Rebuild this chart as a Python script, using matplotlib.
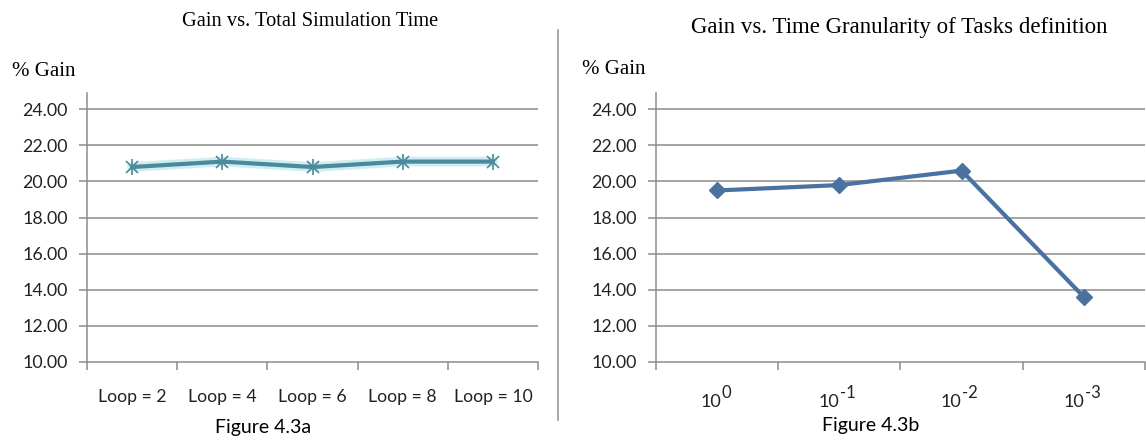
import matplotlib
matplotlib.use("Agg")
import matplotlib.pyplot as plt
from matplotlib.lines import Line2D

plt.rcParams['font.family'] = ['Lato', 'DejaVu Sans']

# Figure 4.3a: gain against total simulation time
loop_labels = ["Loop = 2", "Loop = 4", "Loop = 6", "Loop = 8", "Loop = 10"]
loop_gain = [20.8, 21.1, 20.8, 21.1, 21.1]

# Figure 4.3b: gain against time granularity of task definition (10^exp)
gran_exps = ["0", "-1", "-2", "-3"]
gran_gain = [19.5, 19.8, 20.6, 13.6]

y_ticks = [10, 12, 14, 16, 18, 20, 22, 24]

grid_col = "#8c8c8c"
text_col = "#222222"
serif = "Liberation Serif"

fig = plt.figure(figsize=(11.46, 4.41), dpi=100)
W, H = 1146, 441


def make_axes(x0, x1, n):
    ax = fig.add_axes([x0 / W, 1 - 362 / H, (x1 - x0) / W, (362 - 93) / H])
    ax.set_xlim(0, n)
    ax.set_ylim(10, 24.9)
    ax.set_yticks(y_ticks)
    ax.set_yticklabels(["%.2f" % v for v in y_ticks], fontsize=12.8, color=text_col)
    ax.set_xticks(range(n + 1))
    ax.set_xticklabels([])
    ax.set_xticks([i + 0.5 for i in range(n)], minor=True)
    for v in y_ticks[1:]:
        ax.axhline(v, color=grid_col, lw=1.1, zorder=1)
    for s in ["top", "right"]:
        ax.spines[s].set_visible(False)
    for s in ["left", "bottom"]:
        ax.spines[s].set_color(grid_col)
        ax.spines[s].set_linewidth(1.1)
    ax.tick_params(axis="both", which="major", color=grid_col, width=1.1, length=6)
    ax.tick_params(axis="y", pad=8)
    ax.tick_params(axis="x", which="minor", length=0)
    return ax


ax1 = make_axes(87, 538, len(loop_labels))
xs = [i + 0.5 for i in range(len(loop_gain))]
ax1.plot(xs, loop_gain, color="#c4eaf2", lw=7, alpha=0.8, zorder=2,
         solid_capstyle="round")
ax1.plot(xs, loop_gain, color="#4b8a9a", lw=3, zorder=3)
ax1.plot(xs, loop_gain, ls="none", marker="x", ms=9, mew=1.2,
         color="#4b8a9a", zorder=4)
ax1.plot(xs, loop_gain, ls="none", marker="|", ms=11, mew=1.2,
         color="#4b8a9a", zorder=4)
ax1.set_xticklabels(loop_labels, minor=True, fontsize=12.7, color=text_col)
ax1.tick_params(axis="x", which="minor", pad=19.5)

ax2 = make_axes(656, 1145, len(gran_exps))
xs2 = [i + 0.5 for i in range(len(gran_gain))]
ax2.plot(xs2, gran_gain, color="#4a72a0", lw=3, marker="D", ms=8.5,
         zorder=3)
# powers of ten written as base plus raised exponent
for x, e in zip(xs2, gran_exps):
    shift = 3 if len(e) == 1 else 0
    ax2.annotate("10", xy=(x, 0), xycoords=("data", "axes fraction"),
                 xytext=(shift, -29), textcoords="offset points",
                 ha="right", va="center", fontsize=13, color=text_col,
                 annotation_clip=False)
    ax2.annotate(e, xy=(x, 0), xycoords=("data", "axes fraction"),
                 xytext=(shift + 0.5, -22), textcoords="offset points",
                 ha="left", va="center", fontsize=12, color=text_col,
                 annotation_clip=False)

# titles, axis captions and figure numbers
fig.text(310 / W, 1 - 22 / H, "Gain vs. Total Simulation Time", family=serif,
         fontsize=14.7, ha="center", va="center")
fig.text(899 / W, 1 - 27 / H, "Gain vs. Time Granularity of Tasks definition",
         family=serif, fontsize=16.5, ha="center", va="center")
fig.text(12 / W, 1 - 72 / H, "% Gain", family=serif, fontsize=15,
         ha="left", va="center")
fig.text(582 / W, 1 - 70 / H, "% Gain", family=serif, fontsize=15,
         ha="left", va="center")
fig.text(263 / W, 1 - 428 / H, "Figure 4.3a", fontsize=14,
         ha="center", va="center")
fig.text(871 / W, 1 - 426 / H, "Figure 4.3b", fontsize=14,
         ha="center", va="center")

# vertical divider between the two panels
fig.add_artist(Line2D([558 / W, 558 / W], [1 - 30 / H, 1 - 420 / H],
                      color="#999999", lw=1.2))

fig.savefig("out.png", dpi=100, facecolor="white")
